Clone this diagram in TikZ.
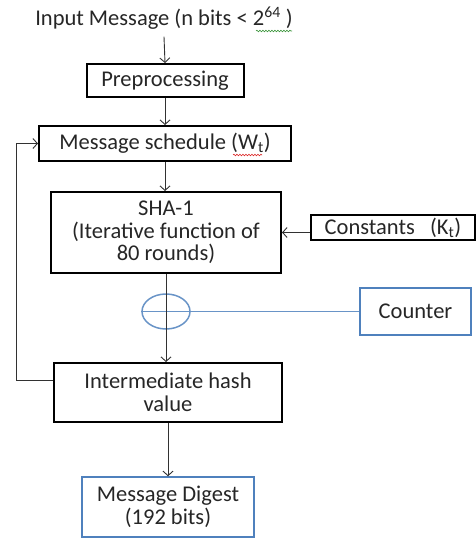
\documentclass[tikz,border=0pt]{standalone}
\usepackage{fontspec}
\setmainfont{Carlito}
\usetikzlibrary{arrows.meta, shapes.geometric, positioning, decorations.pathmorphing}
\definecolor{boxblue}{RGB}{79,129,189}
\definecolor{linegray}{RGB}{50,50,50}
\definecolor{spellred}{RGB}{220,40,40}
\definecolor{spellgreen}{RGB}{60,150,60}

\tikzset{
  stage/.style={draw=black, line width=2pt, align=center, inner sep=2pt, text=black!85},
  bluebox/.style={draw=boxblue, line width=1.5pt, align=center, inner sep=2pt, text=black!85},
  flow/.style={draw=linegray, line width=0.9pt, -{Straight Barb[length=4.5pt, width=10pt]}},
  spell/.style={line width=0.6pt, decorate, decoration={snake, amplitude=0.8pt, segment length=3pt}},
}

\begin{document}
\begin{tikzpicture}[x=1pt, y=-1pt, font=\fontsize{22.5}{22.5}\selectfont]
  \useasboundingbox (0,0) rectangle (476,538);

  % main chain
  \node[text=black!85] (input) at (164,18) {Input Message (n bits < 2\textsuperscript{64} )};
  \node[stage, minimum width=157pt, minimum height=33pt] (pre) at (165,80.5) {Preprocessing};
  \node[stage, minimum width=252pt, minimum height=35pt] (sched) at (165,143.5) {Message schedule (W\textsubscript{t})};
  \node[stage, minimum width=230pt, minimum height=81pt] (sha) at (166,232.5) {SHA-1\\(Iterative function of\\80 rounds)};
  \node[stage, minimum width=164pt, minimum height=25pt] (const) at (393,227.5) {Constants\ \ \ (K\textsubscript{t})};
  \node[draw=boxblue!85, line width=1.5pt, ellipse, minimum width=48pt, minimum height=35pt, inner sep=0pt] (xor) at (166,311.5) {};
  \node[bluebox, minimum width=111pt, minimum height=47pt] (counter) at (415.5,311.5) {Counter};
  \node[stage, minimum width=228pt, minimum height=59pt] (inter) at (168,392.5) {Intermediate hash\\value};
  \node[bluebox, minimum width=172pt, minimum height=60pt] (digest) at (168,507) {Message Digest\\(192 bits)};

  % spell-check marks
  \draw[spell, spellgreen] (256,31) -- (292,31);
  \draw[spell, spellred] (233,155) -- (262,155);

  % connectors
  \draw[flow] ([yshift=-4pt]input.south) -- (pre.north);
  \draw[flow] (pre.south) -- (sched.north);
  \draw[flow] (sched.south) -- (sched.south |- sha.north);
  \draw[flow] (sha.east -| const.west) -- (sha.east);
  \draw[draw=boxblue!85, line width=0.9pt] (xor.west) -- (counter.west);
  \draw[flow] (sha.south) -- (sha.south |- inter.north);
  \draw[flow] (inter.south) -- (digest.north);
  \coordinate (back) at (16,380);
  \draw[flow] ([yshift=12pt]inter.west) -- ([yshift=12pt]inter.west -| back) |- (sched.west);
\end{tikzpicture}
\end{document}
